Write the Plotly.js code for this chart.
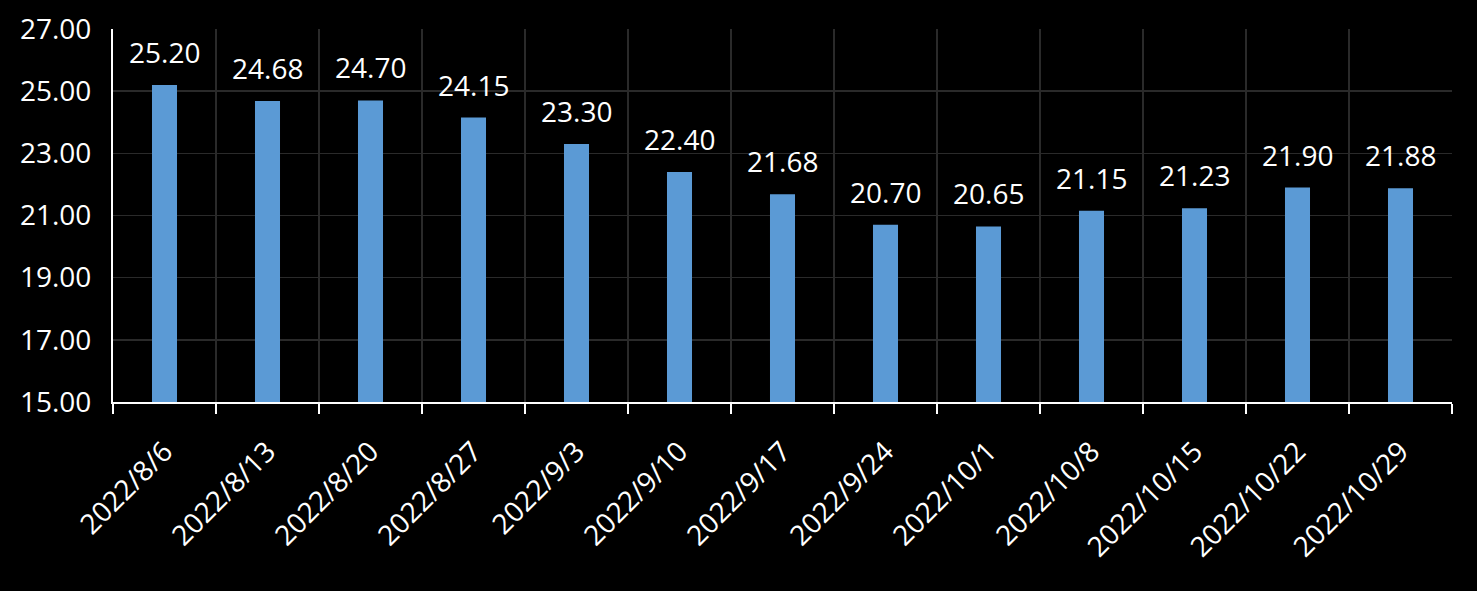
<!DOCTYPE html>
<html><head><meta charset="utf-8">
<script src="https://cdn.plot.ly/plotly-3.0.1.min.js"></script>
<style>html,body{margin:0;padding:0;background:#000;}</style>
</head><body><div id="chart" style="width:1477px;height:591px;"></div>
<script>
const categories = ["2022/8/6","2022/8/13","2022/8/20","2022/8/27","2022/9/3","2022/9/10","2022/9/17","2022/9/24","2022/10/1","2022/10/8","2022/10/15","2022/10/22","2022/10/29"];
const values = [25.20,24.68,24.70,24.15,23.30,22.40,21.68,20.70,20.65,21.15,21.23,21.90,21.88];
const labels = values.map(v => v.toFixed(2));

const font = {family: "Open Sans, Noto Sans, sans-serif", size: 28, color: "#ffffff"};

const trace = {
  type: "bar", x: categories, y: values,
  marker: {color: "#5b9ad5", line: {width: 0}},
  hoverinfo: "skip"
};

const annotations = categories.map((c, i) => ({
  x: c, y: values[i], text: labels[i], showarrow: false,
  xanchor: "center", yanchor: "bottom", yshift: 12, font: font
}));

const layout = {
  width: 1477, height: 591,
  paper_bgcolor: "#000000", plot_bgcolor: "#000000",
  margin: {l: 113, r: 25, t: 29, b: 189},
  bargap: 0.757,
  showlegend: false,
  font: font,
  xaxis: {
    type: "category", tickangle: -45, tickson: "boundaries",
    ticks: "outside", ticklen: 10, tickwidth: 2, tickcolor: "#ffffff",
    showline: true, linecolor: "#ffffff", linewidth: 2,
    showgrid: true, gridcolor: "#2a2a2a", gridwidth: 1.5,
    tickfont: font, ticklabelstandoff: 20, ticklabelshift: 0
  },
  yaxis: {
    range: [15, 27], dtick: 2, tick0: 15, tickformat: ".2f",
    showline: true, linecolor: "#ffffff", linewidth: 2,
    showgrid: true, gridcolor: "#2a2a2a", gridwidth: 1.5,
    ticks: "", ticklabelstandoff: 14, tickfont: font, zeroline: false
  },
  annotations: annotations
};

Plotly.newPlot("chart", [trace], layout, {displayModeBar: false, staticPlot: true});
</script></body></html>
